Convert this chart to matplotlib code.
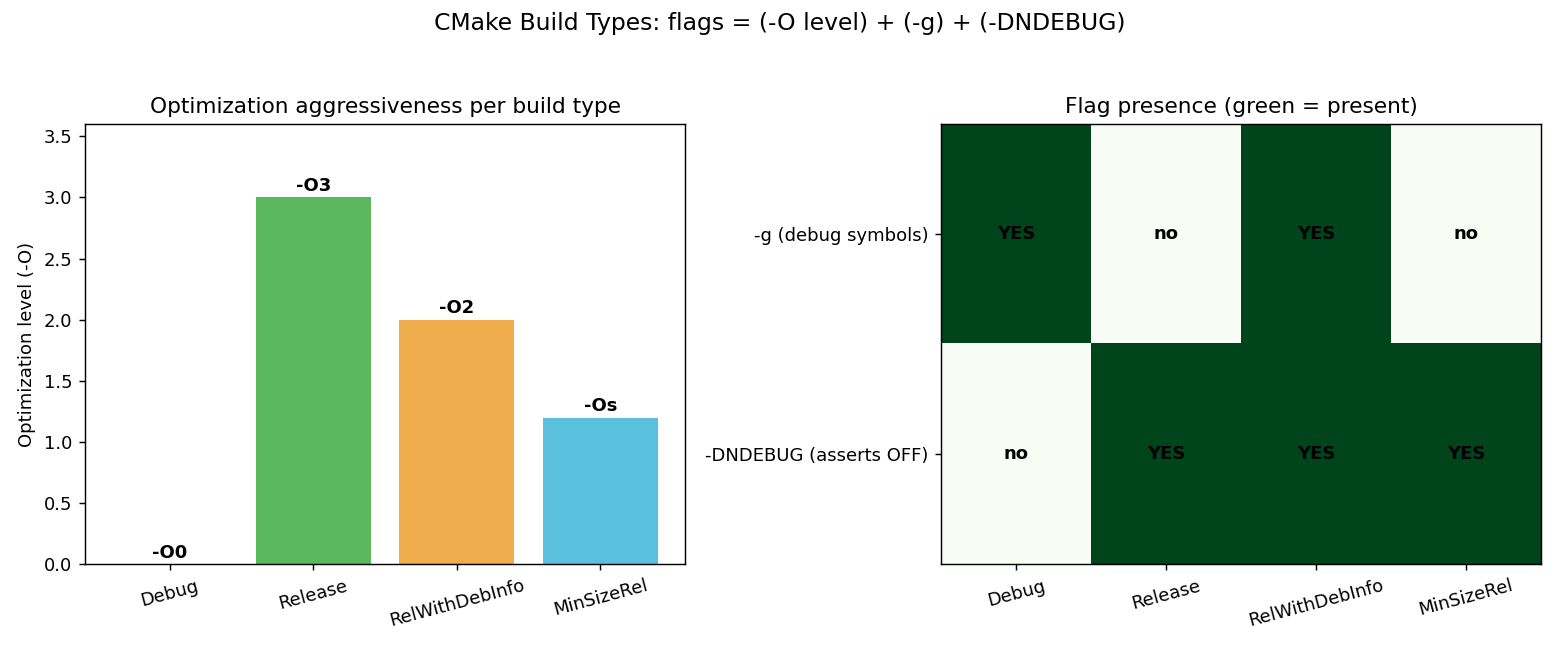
import numpy as np
import matplotlib.pyplot as plt

build_types = ["Debug", "Release", "RelWithDebInfo", "MinSizeRel"]
opt_levels = [0, 3, 2, 1.2]
opt_labels = ["-O0", "-O3", "-O2", "-Os"]
bar_colors = ["#d9534f", "#5cb85c", "#f0ad4e", "#5bc0de"]

flag_names = ["-g (debug symbols)", "-DNDEBUG (asserts OFF)"]
has_g = [1, 0, 1, 0]
has_ndebug = [0, 1, 1, 1]

fig, (ax1, ax2) = plt.subplots(1, 2, figsize=(12, 5), dpi=130)
fig.suptitle("CMake Build Types: flags = (-O level) + (-g) + (-DNDEBUG)", fontsize=13, y=0.982)

bars = ax1.bar(build_types, opt_levels, color=bar_colors)
for b, lab in zip(bars, opt_labels):
    ax1.text(b.get_x() + b.get_width() / 2, b.get_height() + 0.02, lab,
             ha="center", va="bottom", fontweight="bold")
ax1.set_ylim(0, 3.6)
ax1.set_ylabel("Optimization level (-O)")
ax1.set_title("Optimization aggressiveness per build type")
ax1.tick_params(axis="x", rotation=15)

mat = np.array([has_g, has_ndebug])
ax2.imshow(mat, cmap="Greens", vmin=0, vmax=1, aspect="auto")
ax2.set_xticks(range(len(build_types)))
ax2.set_xticklabels(build_types, rotation=15)
ax2.set_yticks(range(len(flag_names)))
ax2.set_yticklabels(flag_names)
for i in range(mat.shape[0]):
    for j in range(mat.shape[1]):
        ax2.text(j, i, "YES" if mat[i, j] else "no", ha="center", va="center",
                 fontweight="bold", color="black")
ax2.set_title("Flag presence (green = present)")

fig.subplots_adjust(left=0.0545, right=0.988, top=0.809, bottom=0.132, wspace=0.427)
fig.savefig("out.png")
